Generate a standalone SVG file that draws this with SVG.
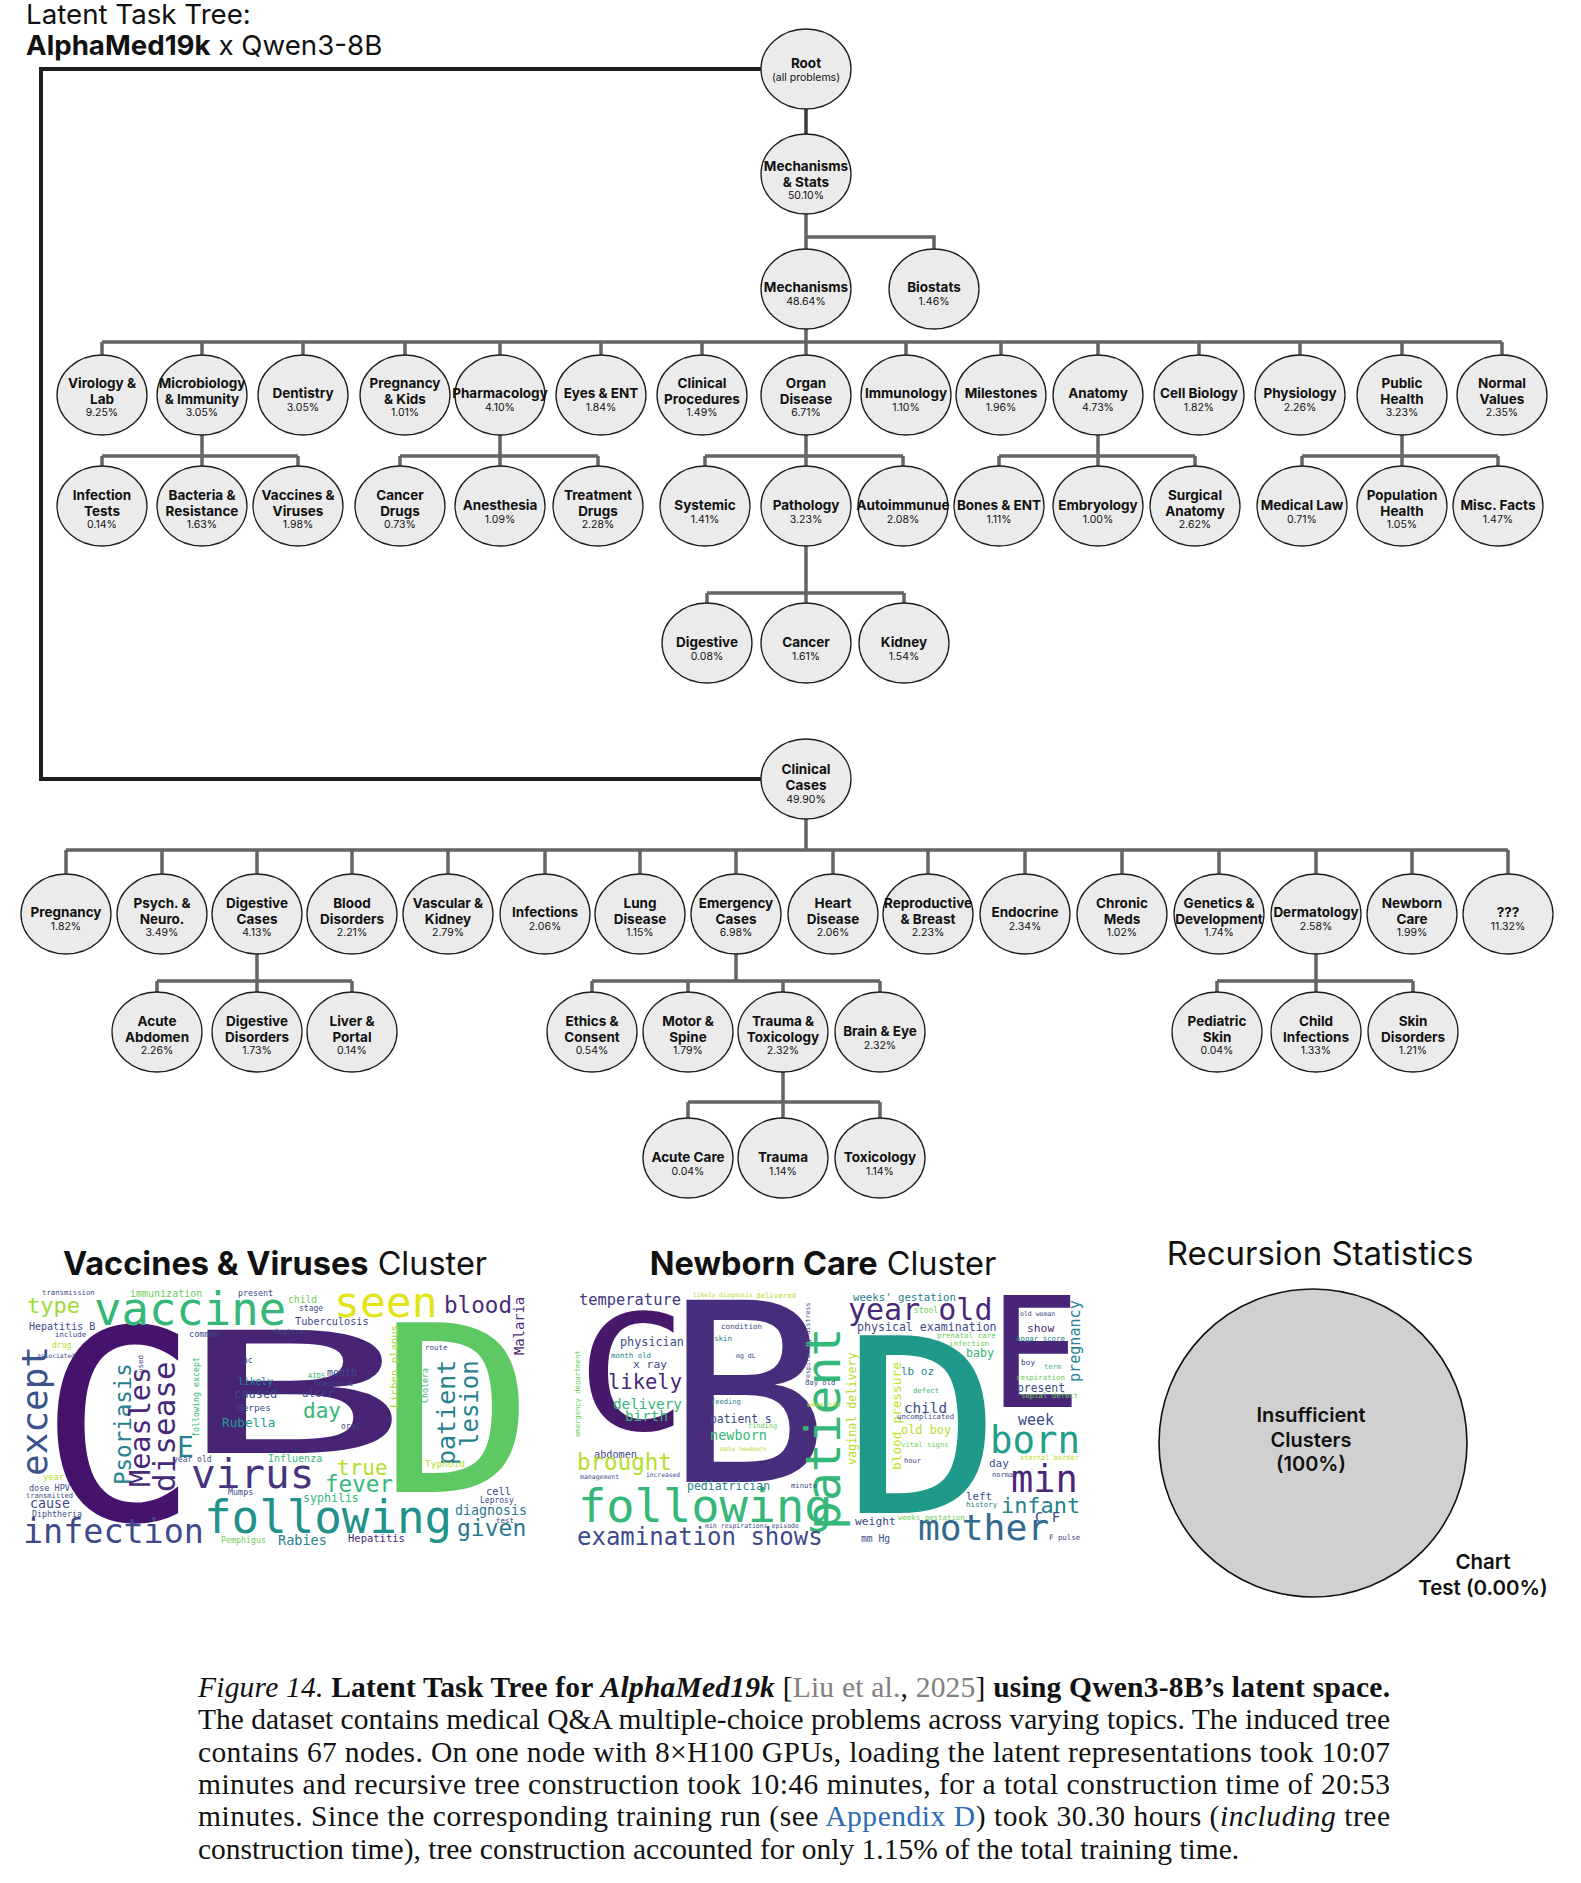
<svg xmlns="http://www.w3.org/2000/svg" width="1581" height="1883" viewBox="0 0 1581 1883">
<style>
.n ellipse{fill:#ebebeb;stroke:#1c1c1c;stroke-width:1.3}
.n text{font-family:Inter,"Noto Sans",sans-serif;text-anchor:middle;fill:#111}
.l{font-weight:700;font-size:13.5px}
.p{font-size:10.5px;fill:#3a3a3a}
.k{fill:none;stroke:#646464;stroke-width:3.5}
.dk{fill:none;stroke:#3a3a3a;stroke-width:3.5}
.bl{fill:none;stroke:#1e1e1e;stroke-width:4}
.w{font-family:"DejaVu Sans Mono",monospace}
.t{font-family:Inter,"Noto Sans",sans-serif;fill:#111}
.cap{font-family:"Liberation Serif","Times New Roman",serif;font-size:29.5px;fill:#111}
</style>

<text class="t" x="26" y="24" font-size="27.7">Latent Task Tree:</text>
<text class="t" x="26" y="55" font-size="27.7"><tspan font-weight="700">AlphaMed19k</tspan> x Qwen3-8B</text>

<g id="connectors">
<path class="dk" d="M806,109V134"/>
<path class="k" d="M806,214V249M806,237H934V249"/>
<path class="k" d="M806,329V342M102,342H1502M102,342V355M202,342V355M303,342V355M405,342V355M500,342V355M601,342V355M702,342V355M806,342V355M906,342V355M1001,342V355M1098,342V355M1199,342V355M1300,342V355M1402,342V355M1502,342V355"/>
<path class="k" d="M202,435V466M102,456H298M102,456V466M298,456V466"/>
<path class="k" d="M500,435V466M400,456H598M400,456V466M598,456V466"/>
<path class="k" d="M806,435V466M705,456H903M705,456V466M903,456V466"/>
<path class="k" d="M1098,435V466M999,456H1195M999,456V466M1195,456V466"/>
<path class="k" d="M1402,435V466M1302,456H1498M1302,456V466M1498,456V466"/>
<path class="k" d="M806,546V603M707,593H904M707,593V603M904,593V603"/>
<path class="bl" d="M761,69H41V779H761"/>
<path class="k" d="M806,819V850M66,850H1508M66,850V874M162,850V874M257,850V874M352,850V874M448,850V874M545,850V874M640,850V874M736,850V874M833,850V874M928,850V874M1025,850V874M1122,850V874M1219,850V874M1316,850V874M1412,850V874M1508,850V874"/>
<path class="k" d="M257,954V992M157,981H352M157,981V992M352,981V992"/>
<path class="k" d="M736,954V981M592,981H880M592,981V992M688,981V992M783,981V992M880,981V992"/>
<path class="k" d="M1316,954V992M1217,981H1413M1217,981V992M1413,981V992"/>
<path class="k" d="M783,1072V1118M688,1102H880M688,1102V1118M880,1102V1118"/>
</g>

<g id="n-root" class="n"><ellipse cx="806" cy="69" rx="45" ry="40"/><text class="l" x="806" y="68">Root</text><text class="p" x="806" y="81" font-size="9">(all problems)</text></g>
<g id="n-mechstats" class="n"><ellipse cx="806" cy="174" rx="45" ry="40"/><text class="l" x="806" y="171" font-size="12.5">Mechanisms</text><text class="l" x="806" y="187" font-size="12.5">&amp; Stats</text><text class="p" x="806" y="199">50.10%</text></g>
<g id="n-mech" class="n"><ellipse cx="806" cy="289" rx="45" ry="40"/><text class="l" x="806" y="292" font-size="13">Mechanisms</text><text class="p" x="806" y="305">48.64%</text></g>
<g id="n-biostats" class="n"><ellipse cx="934" cy="289" rx="45" ry="40"/><text class="l" x="934" y="292">Biostats</text><text class="p" x="934" y="305">1.46%</text></g>

<g id="n-virology" class="n"><ellipse cx="102" cy="395" rx="45" ry="40"/><text class="l" x="102" y="388">Virology &amp;</text><text class="l" x="102" y="404">Lab</text><text class="p" x="102" y="416">9.25%</text></g>
<g id="n-microbio" class="n"><ellipse cx="202" cy="395" rx="45" ry="40"/><text class="l" x="202" y="388" font-size="12.5">Microbiology</text><text class="l" x="202" y="404" font-size="12.5">&amp; Immunity</text><text class="p" x="202" y="416">3.05%</text></g>
<g id="n-dentistry" class="n"><ellipse cx="303" cy="395" rx="45" ry="40"/><text class="l" x="303" y="398">Dentistry</text><text class="p" x="303" y="411">3.05%</text></g>
<g id="n-pregkids" class="n"><ellipse cx="405" cy="395" rx="45" ry="40"/><text class="l" x="405" y="388">Pregnancy</text><text class="l" x="405" y="404">&amp; Kids</text><text class="p" x="405" y="416">1.01%</text></g>
<g id="n-pharma" class="n"><ellipse cx="500" cy="395" rx="45" ry="40"/><text class="l" x="500" y="398" font-size="12">Pharmacology</text><text class="p" x="500" y="411">4.10%</text></g>
<g id="n-eyes" class="n"><ellipse cx="601" cy="395" rx="45" ry="40"/><text class="l" x="601" y="398">Eyes &amp; ENT</text><text class="p" x="601" y="411">1.84%</text></g>
<g id="n-clinproc" class="n"><ellipse cx="702" cy="395" rx="45" ry="40"/><text class="l" x="702" y="388">Clinical</text><text class="l" x="702" y="404">Procedures</text><text class="p" x="702" y="416">1.49%</text></g>
<g id="n-organ" class="n"><ellipse cx="806" cy="395" rx="45" ry="40"/><text class="l" x="806" y="388">Organ</text><text class="l" x="806" y="404">Disease</text><text class="p" x="806" y="416">6.71%</text></g>
<g id="n-immuno" class="n"><ellipse cx="906" cy="395" rx="45" ry="40"/><text class="l" x="906" y="398" font-size="13">Immunology</text><text class="p" x="906" y="411">1.10%</text></g>
<g id="n-milestones" class="n"><ellipse cx="1001" cy="395" rx="45" ry="40"/><text class="l" x="1001" y="398">Milestones</text><text class="p" x="1001" y="411">1.96%</text></g>
<g id="n-anatomy" class="n"><ellipse cx="1098" cy="395" rx="45" ry="40"/><text class="l" x="1098" y="398">Anatomy</text><text class="p" x="1098" y="411">4.73%</text></g>
<g id="n-cellbio" class="n"><ellipse cx="1199" cy="395" rx="45" ry="40"/><text class="l" x="1199" y="398">Cell Biology</text><text class="p" x="1199" y="411">1.82%</text></g>
<g id="n-physio" class="n"><ellipse cx="1300" cy="395" rx="45" ry="40"/><text class="l" x="1300" y="398">Physiology</text><text class="p" x="1300" y="411">2.26%</text></g>
<g id="n-public" class="n"><ellipse cx="1402" cy="395" rx="45" ry="40"/><text class="l" x="1402" y="388">Public</text><text class="l" x="1402" y="404">Health</text><text class="p" x="1402" y="416">3.23%</text></g>
<g id="n-normal" class="n"><ellipse cx="1502" cy="395" rx="45" ry="40"/><text class="l" x="1502" y="388">Normal</text><text class="l" x="1502" y="404">Values</text><text class="p" x="1502" y="416">2.35%</text></g>

<g id="n-inftests" class="n"><ellipse cx="102" cy="506" rx="45" ry="40"/><text class="l" x="102" y="500">Infection</text><text class="l" x="102" y="516">Tests</text><text class="p" x="102" y="528">0.14%</text></g>
<g id="n-bacteria" class="n"><ellipse cx="202" cy="506" rx="45" ry="40"/><text class="l" x="202" y="500">Bacteria &amp;</text><text class="l" x="202" y="516">Resistance</text><text class="p" x="202" y="528">1.63%</text></g>
<g id="n-vaccines" class="n"><ellipse cx="298" cy="506" rx="45" ry="40"/><text class="l" x="298" y="500">Vaccines &amp;</text><text class="l" x="298" y="516">Viruses</text><text class="p" x="298" y="528">1.98%</text></g>
<g id="n-cancerdrugs" class="n"><ellipse cx="400" cy="506" rx="45" ry="40"/><text class="l" x="400" y="500">Cancer</text><text class="l" x="400" y="516">Drugs</text><text class="p" x="400" y="528">0.73%</text></g>
<g id="n-anesthesia" class="n"><ellipse cx="500" cy="506" rx="45" ry="40"/><text class="l" x="500" y="510">Anesthesia</text><text class="p" x="500" y="523">1.09%</text></g>
<g id="n-treatment" class="n"><ellipse cx="598" cy="506" rx="45" ry="40"/><text class="l" x="598" y="500">Treatment</text><text class="l" x="598" y="516">Drugs</text><text class="p" x="598" y="528">2.28%</text></g>
<g id="n-systemic" class="n"><ellipse cx="705" cy="506" rx="45" ry="40"/><text class="l" x="705" y="510">Systemic</text><text class="p" x="705" y="523">1.41%</text></g>
<g id="n-pathology" class="n"><ellipse cx="806" cy="506" rx="45" ry="40"/><text class="l" x="806" y="510">Pathology</text><text class="p" x="806" y="523">3.23%</text></g>
<g id="n-autoimmune" class="n"><ellipse cx="903" cy="506" rx="45" ry="40"/><text class="l" x="903" y="510" font-size="12">Autoimmunue</text><text class="p" x="903" y="523">2.08%</text></g>
<g id="n-bones" class="n"><ellipse cx="999" cy="506" rx="45" ry="40"/><text class="l" x="999" y="510" font-size="13">Bones &amp; ENT</text><text class="p" x="999" y="523">1.11%</text></g>
<g id="n-embryo" class="n"><ellipse cx="1098" cy="506" rx="45" ry="40"/><text class="l" x="1098" y="510">Embryology</text><text class="p" x="1098" y="523">1.00%</text></g>
<g id="n-surgical" class="n"><ellipse cx="1195" cy="506" rx="45" ry="40"/><text class="l" x="1195" y="500">Surgical</text><text class="l" x="1195" y="516">Anatomy</text><text class="p" x="1195" y="528">2.62%</text></g>
<g id="n-medlaw" class="n"><ellipse cx="1302" cy="506" rx="45" ry="40"/><text class="l" x="1302" y="510">Medical Law</text><text class="p" x="1302" y="523">0.71%</text></g>
<g id="n-pophealth" class="n"><ellipse cx="1402" cy="506" rx="45" ry="40"/><text class="l" x="1402" y="500">Population</text><text class="l" x="1402" y="516">Health</text><text class="p" x="1402" y="528">1.05%</text></g>
<g id="n-misc" class="n"><ellipse cx="1498" cy="506" rx="45" ry="40"/><text class="l" x="1498" y="510">Misc. Facts</text><text class="p" x="1498" y="523">1.47%</text></g>

<g id="n-digestive" class="n"><ellipse cx="707" cy="643" rx="45" ry="40"/><text class="l" x="707" y="647">Digestive</text><text class="p" x="707" y="660">0.08%</text></g>
<g id="n-cancer" class="n"><ellipse cx="806" cy="643" rx="45" ry="40"/><text class="l" x="806" y="647">Cancer</text><text class="p" x="806" y="660">1.61%</text></g>
<g id="n-kidney" class="n"><ellipse cx="904" cy="643" rx="45" ry="40"/><text class="l" x="904" y="647">Kidney</text><text class="p" x="904" y="660">1.54%</text></g>

<g id="n-clinical" class="n"><ellipse cx="806" cy="779" rx="45" ry="40"/><text class="l" x="806" y="774">Clinical</text><text class="l" x="806" y="790">Cases</text><text class="p" x="806" y="803">49.90%</text></g>

<g id="n-pregnancy" class="n"><ellipse cx="66" cy="914" rx="45" ry="40"/><text class="l" x="66" y="917">Pregnancy</text><text class="p" x="66" y="930">1.82%</text></g>
<g id="n-psych" class="n"><ellipse cx="162" cy="914" rx="45" ry="40"/><text class="l" x="162" y="908">Psych. &amp;</text><text class="l" x="162" y="924">Neuro.</text><text class="p" x="162" y="936">3.49%</text></g>
<g id="n-digcases" class="n"><ellipse cx="257" cy="914" rx="45" ry="40"/><text class="l" x="257" y="908">Digestive</text><text class="l" x="257" y="924">Cases</text><text class="p" x="257" y="936">4.13%</text></g>
<g id="n-blood" class="n"><ellipse cx="352" cy="914" rx="45" ry="40"/><text class="l" x="352" y="908">Blood</text><text class="l" x="352" y="924">Disorders</text><text class="p" x="352" y="936">2.21%</text></g>
<g id="n-vascular" class="n"><ellipse cx="448" cy="914" rx="45" ry="40"/><text class="l" x="448" y="908">Vascular &amp;</text><text class="l" x="448" y="924">Kidney</text><text class="p" x="448" y="936">2.79%</text></g>
<g id="n-infections" class="n"><ellipse cx="545" cy="914" rx="45" ry="40"/><text class="l" x="545" y="917">Infections</text><text class="p" x="545" y="930">2.06%</text></g>
<g id="n-lung" class="n"><ellipse cx="640" cy="914" rx="45" ry="40"/><text class="l" x="640" y="908">Lung</text><text class="l" x="640" y="924">Disease</text><text class="p" x="640" y="936">1.15%</text></g>
<g id="n-emergency" class="n"><ellipse cx="736" cy="914" rx="45" ry="40"/><text class="l" x="736" y="908">Emergency</text><text class="l" x="736" y="924">Cases</text><text class="p" x="736" y="936">6.98%</text></g>
<g id="n-heart" class="n"><ellipse cx="833" cy="914" rx="45" ry="40"/><text class="l" x="833" y="908">Heart</text><text class="l" x="833" y="924">Disease</text><text class="p" x="833" y="936">2.06%</text></g>
<g id="n-repro" class="n"><ellipse cx="928" cy="914" rx="45" ry="40"/><text class="l" x="928" y="908" font-size="12.5">Reproductive</text><text class="l" x="928" y="924" font-size="12.5">&amp; Breast</text><text class="p" x="928" y="936">2.23%</text></g>
<g id="n-endocrine" class="n"><ellipse cx="1025" cy="914" rx="45" ry="40"/><text class="l" x="1025" y="917">Endocrine</text><text class="p" x="1025" y="930">2.34%</text></g>
<g id="n-chronic" class="n"><ellipse cx="1122" cy="914" rx="45" ry="40"/><text class="l" x="1122" y="908">Chronic</text><text class="l" x="1122" y="924">Meds</text><text class="p" x="1122" y="936">1.02%</text></g>
<g id="n-genetics" class="n"><ellipse cx="1219" cy="914" rx="45" ry="40"/><text class="l" x="1219" y="908" font-size="11.5">Genetics &amp;</text><text class="l" x="1219" y="924" font-size="11.5">Development</text><text class="p" x="1219" y="936">1.74%</text></g>
<g id="n-derma" class="n"><ellipse cx="1316" cy="914" rx="45" ry="40"/><text class="l" x="1316" y="917" font-size="13">Dermatology</text><text class="p" x="1316" y="930">2.58%</text></g>
<g id="n-newborn" class="n"><ellipse cx="1412" cy="914" rx="45" ry="40"/><text class="l" x="1412" y="908">Newborn</text><text class="l" x="1412" y="924">Care</text><text class="p" x="1412" y="936">1.99%</text></g>
<g id="n-unknown" class="n"><ellipse cx="1508" cy="914" rx="45" ry="40"/><text class="l" x="1508" y="917">???</text><text class="p" x="1508" y="930">11.32%</text></g>

<g id="n-acuteabd" class="n"><ellipse cx="157" cy="1032" rx="45" ry="40"/><text class="l" x="157" y="1026">Acute</text><text class="l" x="157" y="1042">Abdomen</text><text class="p" x="157" y="1054">2.26%</text></g>
<g id="n-digdis" class="n"><ellipse cx="257" cy="1032" rx="45" ry="40"/><text class="l" x="257" y="1026">Digestive</text><text class="l" x="257" y="1042">Disorders</text><text class="p" x="257" y="1054">1.73%</text></g>
<g id="n-liver" class="n"><ellipse cx="352" cy="1032" rx="45" ry="40"/><text class="l" x="352" y="1026">Liver &amp;</text><text class="l" x="352" y="1042">Portal</text><text class="p" x="352" y="1054">0.14%</text></g>
<g id="n-ethics" class="n"><ellipse cx="592" cy="1032" rx="45" ry="40"/><text class="l" x="592" y="1026">Ethics &amp;</text><text class="l" x="592" y="1042">Consent</text><text class="p" x="592" y="1054">0.54%</text></g>
<g id="n-motor" class="n"><ellipse cx="688" cy="1032" rx="45" ry="40"/><text class="l" x="688" y="1026">Motor &amp;</text><text class="l" x="688" y="1042">Spine</text><text class="p" x="688" y="1054">1.79%</text></g>
<g id="n-traumatox" class="n"><ellipse cx="783" cy="1032" rx="45" ry="40"/><text class="l" x="783" y="1026">Trauma &amp;</text><text class="l" x="783" y="1042">Toxicology</text><text class="p" x="783" y="1054">2.32%</text></g>
<g id="n-brain" class="n"><ellipse cx="880" cy="1032" rx="45" ry="40"/><text class="l" x="880" y="1036">Brain &amp; Eye</text><text class="p" x="880" y="1049">2.32%</text></g>
<g id="n-pedskin" class="n"><ellipse cx="1217" cy="1032" rx="45" ry="40"/><text class="l" x="1217" y="1026">Pediatric</text><text class="l" x="1217" y="1042">Skin</text><text class="p" x="1217" y="1054">0.04%</text></g>
<g id="n-childinf" class="n"><ellipse cx="1316" cy="1032" rx="45" ry="40"/><text class="l" x="1316" y="1026">Child</text><text class="l" x="1316" y="1042">Infections</text><text class="p" x="1316" y="1054">1.33%</text></g>
<g id="n-skindis" class="n"><ellipse cx="1413" cy="1032" rx="45" ry="40"/><text class="l" x="1413" y="1026">Skin</text><text class="l" x="1413" y="1042">Disorders</text><text class="p" x="1413" y="1054">1.21%</text></g>

<g id="n-acutecare" class="n"><ellipse cx="688" cy="1158" rx="45" ry="40"/><text class="l" x="688" y="1162">Acute Care</text><text class="p" x="688" y="1175">0.04%</text></g>
<g id="n-trauma" class="n"><ellipse cx="783" cy="1158" rx="45" ry="40"/><text class="l" x="783" y="1162">Trauma</text><text class="p" x="783" y="1175">1.14%</text></g>
<g id="n-toxicology" class="n"><ellipse cx="880" cy="1158" rx="45" ry="40"/><text class="l" x="880" y="1162">Toxicology</text><text class="p" x="880" y="1175">1.14%</text></g>

<g id="cloud-vaccines">
<text class="t" x="275" y="1275" font-size="32.5" text-anchor="middle"><tspan font-weight="700">Vaccines &amp; Viruses</tspan> Cluster</text>
<g class="w">
<text transform="translate(119,1520) scale(1.0,1)" text-anchor="middle" font-size="265" fill="#45136b">C</text>
<text transform="translate(293,1453) scale(2.3,1)" text-anchor="middle" font-size="169" fill="#472474">B</text>
<text transform="translate(457,1492) scale(1.11,1)" text-anchor="middle" font-size="233" fill="#5ec962">D</text>
<text x="42" y="1295" font-size="7.3" fill="#3e4a89">transmission</text>
<text x="130" y="1297" font-size="10" fill="#6ece58">immunization</text>
<text x="238" y="1296" font-size="8.3" fill="#3e4a89">present</text>
<text x="27" y="1313" font-size="22" fill="#a0da39">type</text>
<text x="94" y="1325" font-size="45.6" fill="#35b779">vaccine</text>
<text x="334" y="1317" font-size="43" fill="#e2e418">seen</text>
<text x="444" y="1313" font-size="22.6" fill="#472c7a">blood</text>
<text x="288" y="1303" font-size="9.7" fill="#6ece58">child</text>
<text x="299" y="1311" font-size="8" fill="#3e4a89">stage</text>
<text x="295" y="1325" font-size="10.2" fill="#3e4a89">Tuberculosis</text>
<text x="29" y="1330" font-size="10" fill="#3e4a89">Hepatitis B</text>
<text transform="translate(524,1355) rotate(-90)" font-size="13.8" fill="#482878">Malaria</text>
<text x="55" y="1337" font-size="7.4" fill="#3e4a89">include</text>
<text x="189" y="1337" font-size="8.6" fill="#3e4a89">common</text>
<text x="274" y="1334" font-size="7" fill="#3e4a89">feature</text>
<text x="52" y="1348" font-size="8" fill="#b5de2b">drug</text>
<text x="37" y="1358" font-size="6.3" fill="#3e4a89">associated</text>
<text transform="translate(47,1476) rotate(-90)" font-size="36" fill="#3b528b">except</text>
<text x="425" y="1350" font-size="7.5" fill="#3e4a89">route</text>
<text transform="translate(398,1408) rotate(-90)" font-size="10.6" fill="#a5db36">Lichen planus</text>
<text x="243" y="1363" font-size="8" fill="#3e4a89">ac</text>
<text x="238" y="1385" font-size="9.7" fill="#26828e">likely</text>
<text x="234" y="1398" font-size="12" fill="#3e4a89">caused</text>
<text x="237" y="1411" font-size="9.4" fill="#3e4a89">Herpes</text>
<text x="222" y="1427" font-size="12.7" fill="#1f9e89">Rubella</text>
<text x="308" y="1378" font-size="7" fill="#35b779">AIDS</text>
<text x="327" y="1376" font-size="10" fill="#3e4a89">month</text>
<text x="314" y="1386" font-size="7.2" fill="#3e4a89">Chancroid</text>
<text x="302" y="1397" font-size="10.6" fill="#3e4a89">ulcer</text>
<text x="303" y="1418" font-size="21" fill="#35b779">day</text>
<text x="341" y="1429" font-size="8" fill="#3e4a89">oral</text>
<text transform="translate(131,1485) rotate(-90)" font-size="22.5" fill="#26828e">Psoriasis</text>
<text transform="translate(150,1487) rotate(-90)" font-size="28.5" fill="#482878">Measles</text>
<text transform="translate(175,1492) rotate(-90)" font-size="31" fill="#482878">disease</text>
<text transform="translate(143,1373) rotate(-90)" font-size="7.5" fill="#3e4a89">used</text>
<text x="177" y="1457" font-size="28" fill="#26828e">E</text>
<text transform="translate(199,1437) rotate(-90)" font-size="8.3" fill="#35b779">following except</text>
<text x="191" y="1488" font-size="41" fill="#46337e">virus</text>
<text x="173" y="1462" font-size="8" fill="#3e4a89">year old</text>
<text x="268" y="1462" font-size="10" fill="#35b779">Influenza</text>
<text x="337" y="1475" font-size="21" fill="#b5de2b">true</text>
<text x="325" y="1492" font-size="22.6" fill="#35b779">fever</text>
<text transform="translate(455,1465) rotate(-90)" font-size="25" fill="#26828e">patient</text>
<text transform="translate(478,1447) rotate(-90)" font-size="24" fill="#26828e">lesion</text>
<text transform="translate(428,1403) rotate(-90)" font-size="8.3" fill="#35b779">Cholera</text>
<text x="425" y="1467" font-size="9.5" fill="#b5de2b">Typhoid</text>
<text x="486" y="1495" font-size="10.4" fill="#3e4a89">cell</text>
<text x="480" y="1503" font-size="8" fill="#3e4a89">Leprosy</text>
<text x="455" y="1515" font-size="13.3" fill="#2a788e">diagnosis</text>
<text x="496" y="1523" font-size="7.5" fill="#3e4a89">test</text>
<text x="457" y="1536" font-size="23" fill="#2a788e">given</text>
<text x="204" y="1533" font-size="45.8" fill="#21918c">following</text>
<text x="23" y="1543" font-size="33.4" fill="#3e4a89">infection</text>
<text x="303" y="1502" font-size="11.6" fill="#35b779">syphilis</text>
<text x="278" y="1545" font-size="13.5" fill="#26828e">Rabies</text>
<text x="221" y="1543" font-size="8.3" fill="#6ece58">Pemphigus</text>
<text x="348" y="1542" font-size="10.5" fill="#482878">Hepatitis</text>
<text x="228" y="1495" font-size="8.4" fill="#3e4a89">Mumps</text>
<text x="29" y="1491" font-size="8.5" fill="#3e4a89">dose HPV</text>
<text x="43" y="1480" font-size="8.7" fill="#b5de2b">year</text>
<text x="26" y="1498" font-size="7.1" fill="#3e4a89">transmitted</text>
<text x="30" y="1508" font-size="13.3" fill="#3e4a89">cause</text>
<text x="32" y="1517" font-size="8.3" fill="#3e4a89">Diphtheria</text>
</g>
</g>

<g id="cloud-newborn">
<text class="t" x="823" y="1275" font-size="32.5" text-anchor="middle"><tspan font-weight="700">Newborn Care</tspan> Cluster</text>
<g class="w">
<text transform="translate(632,1430) scale(1.16,1)" text-anchor="middle" font-size="160" fill="#46196b">C</text>
<text transform="translate(747,1482) scale(1.1,1)" text-anchor="middle" font-size="250" fill="#472d7b">B</text>
<text transform="translate(922,1513) scale(1.09,1)" text-anchor="middle" font-size="244" fill="#1f9a8a">D</text>
<text transform="translate(1035,1407)" text-anchor="middle" font-size="154" fill="#482576">E</text>
<text x="579" y="1305" font-size="15.4" fill="#453781">temperature</text>
<text x="693" y="1297" font-size="6.2" fill="#b5de2b">likely diagnosis</text>
<text x="756" y="1298" font-size="7.4" fill="#b5de2b">delivered</text>
<text x="853" y="1301" font-size="10.7" fill="#26828e">weeks' gestation</text>
<text x="848" y="1320" font-size="30" fill="#482878">year old</text>
<text x="857" y="1331" font-size="11.6" fill="#3e4a89">physical examination</text>
<text x="914" y="1313" font-size="8" fill="#6ece58">stool</text>
<text x="1020" y="1316" font-size="6.5" fill="#3e4a89">old woman</text>
<text x="1027" y="1332" font-size="11.3" fill="#482878">show</text>
<text x="1016" y="1341" font-size="7.4" fill="#26828e">Apgar score</text>
<text transform="translate(1080,1382) rotate(-90)" font-size="15.1" fill="#26828e">pregnancy</text>
<text x="937" y="1338" font-size="7.5" fill="#6ece58">prenatal care</text>
<text x="949" y="1346" font-size="7.4" fill="#6ece58">infection</text>
<text x="966" y="1357" font-size="11.6" fill="#35b779">baby</text>
<text x="1021" y="1365" font-size="7.8" fill="#3e4a89">boy</text>
<text x="1044" y="1369" font-size="7" fill="#35b779">term</text>
<text x="1016" y="1380" font-size="7.4" fill="#6ece58">respiration</text>
<text x="1017" y="1392" font-size="11.4" fill="#3e4a89">present</text>
<text x="1021" y="1398" font-size="7.3" fill="#6ece58">septal defect</text>
<text x="1018" y="1425" font-size="15" fill="#3e4a89">week</text>
<text x="990" y="1453" font-size="37.4" fill="#1f9e89">born</text>
<text x="989" y="1467" font-size="11" fill="#3e4a89">day</text>
<text x="1020" y="1460" font-size="7" fill="#b5de2b">sternal border</text>
<text x="992" y="1477" font-size="7" fill="#3e4a89">normal</text>
<text x="1011" y="1492" font-size="37" fill="#482878">min</text>
<text x="966" y="1500" font-size="10.8" fill="#3e4a89">left</text>
<text x="966" y="1507" font-size="7.4" fill="#26828e">history</text>
<text x="1001" y="1513" font-size="21.9" fill="#26828e">infant</text>
<text x="1035" y="1522" font-size="14" fill="#3e4a89">C F</text>
<text x="1049" y="1540" font-size="7.4" fill="#3e4a89">F pulse</text>
<text x="918" y="1540" font-size="36.3" fill="#31688e">mother</text>
<text x="855" y="1525" font-size="11.3" fill="#3e4a89">weight</text>
<text x="898" y="1520" font-size="7.4" fill="#6ece58">weeks gestation</text>
<text x="861" y="1542" font-size="9.7" fill="#3e4a89">mm Hg</text>
<text transform="translate(840,1530) rotate(-90)" font-size="48" fill="#35b779">patient</text>
<text transform="translate(856,1465) rotate(-90)" font-size="11.7" fill="#b5de2b">vaginal delivery</text>
<text transform="translate(810,1382) rotate(-90)" font-size="6.6" fill="#3e4a89">respiratory distress</text>
<text transform="translate(901,1470) rotate(-90)" font-size="12.8" fill="#c2df23">blood pressure</text>
<text x="901" y="1375" font-size="11" fill="#26828e">lb oz</text>
<text x="913" y="1393" font-size="7.2" fill="#35b779">defect</text>
<text x="904" y="1413" font-size="14.3" fill="#3e4a89">child</text>
<text x="897" y="1419" font-size="7.3" fill="#3e4a89">uncomplicated</text>
<text x="901" y="1434" font-size="11.9" fill="#b5de2b">old boy</text>
<text x="901" y="1447" font-size="7.2" fill="#6ece58">vital signs</text>
<text x="904" y="1463" font-size="7" fill="#3e4a89">hour</text>
<text x="620" y="1346" font-size="11.8" fill="#3e4a89">physician</text>
<text x="721" y="1329" font-size="7.6" fill="#3e4a89">condition</text>
<text x="714" y="1341" font-size="7.5" fill="#26828e">skin</text>
<text x="736" y="1358" font-size="6.5" fill="#3e4a89">mg dL</text>
<text x="611" y="1358" font-size="7.4" fill="#26828e">month old</text>
<text x="633" y="1368" font-size="11.3" fill="#3e4a89">x ray</text>
<text x="608" y="1389" font-size="20.5" fill="#482878">likely</text>
<text x="613" y="1409" font-size="14.3" fill="#35b779">delivery</text>
<text x="625" y="1421" font-size="14.3" fill="#35b779">birth</text>
<text transform="translate(580,1437) rotate(-90)" font-size="7.2" fill="#6ece58">emergency department</text>
<text x="594" y="1458" font-size="10.2" fill="#3e4a89">abdomen</text>
<text x="577" y="1470" font-size="22.5" fill="#b5de2b">brought</text>
<text x="580" y="1479" font-size="6.5" fill="#3e4a89">management</text>
<text x="646" y="1477" font-size="6.3" fill="#3e4a89">increased</text>
<text x="578" y="1522" font-size="47" fill="#35b779">following</text>
<text x="577" y="1545" font-size="24" fill="#3e4a89">examination shows</text>
<text x="705" y="1528" font-size="6.5" fill="#3e4a89">min respirations episode</text>
<text x="687" y="1490" font-size="11.5" fill="#26828e">pediatrician</text>
<text x="791" y="1488" font-size="7.2" fill="#3e4a89">minute</text>
<text x="710" y="1423" font-size="11.4" fill="#3e4a89">patient s</text>
<text x="748" y="1428" font-size="6.9" fill="#6ece58">finding</text>
<text x="710" y="1440" font-size="13.5" fill="#35b779">newborn</text>
<text x="720" y="1451" font-size="6.4" fill="#b5de2b">male newborn</text>
<text x="711" y="1404" font-size="7.1" fill="#26828e">feeding</text>
<text x="805" y="1385" font-size="7.2" fill="#3e4a89">day old</text>
<text x="807" y="1407" font-size="7" fill="#b5de2b">week old</text>
</g>
</g>

<g id="recursion-stats">
<text class="t" x="1320" y="1265" font-size="33" text-anchor="middle">Recursion Statistics</text>
<circle cx="1313" cy="1443" r="154" fill="#d0d0d0" stroke="#111" stroke-width="1.6"/>
<text class="t" x="1311" y="1422" font-size="20" font-weight="600" text-anchor="middle">Insufficient</text>
<text class="t" x="1311" y="1447" font-size="20" font-weight="600" text-anchor="middle">Clusters</text>
<text class="t" x="1311" y="1471" font-size="20" font-weight="600" text-anchor="middle">(100%)</text>
<text class="t" x="1483" y="1569" font-size="20.5" font-weight="600" text-anchor="middle">Chart</text>
<text class="t" x="1483" y="1595" font-size="20.5" font-weight="600" text-anchor="middle">Test (0.00%)</text>
</g>

<g id="caption" class="cap">
<text x="198" y="1697" textLength="1192" lengthAdjust="spacing"><tspan font-style="italic">Figure 14.</tspan><tspan font-weight="700"> Latent Task Tree for </tspan><tspan font-weight="700" font-style="italic">AlphaMed19k</tspan> [<tspan fill="#808080">Liu et al.</tspan>, <tspan fill="#808080">2025</tspan>] <tspan font-weight="700">using Qwen3-8B’s latent space.</tspan></text>
<text x="198" y="1729" textLength="1192" lengthAdjust="spacing">The dataset contains medical Q&amp;A multiple-choice problems across varying topics. The induced tree</text>
<text x="198" y="1762" textLength="1192" lengthAdjust="spacing">contains 67 nodes. On one node with 8×H100 GPUs, loading the latent representations took 10:07</text>
<text x="198" y="1794" textLength="1192" lengthAdjust="spacing">minutes and recursive tree construction took 10:46 minutes, for a total construction time of 20:53</text>
<text x="198" y="1826" textLength="1192" lengthAdjust="spacing">minutes. Since the corresponding training run (see <tspan fill="#2c6bb0">Appendix D</tspan>) took 30.30 hours (<tspan font-style="italic">including</tspan> tree</text>
<text x="198" y="1859">construction time), tree construction accounted for only 1.15% of the total training time.</text>
</g>
</svg>
